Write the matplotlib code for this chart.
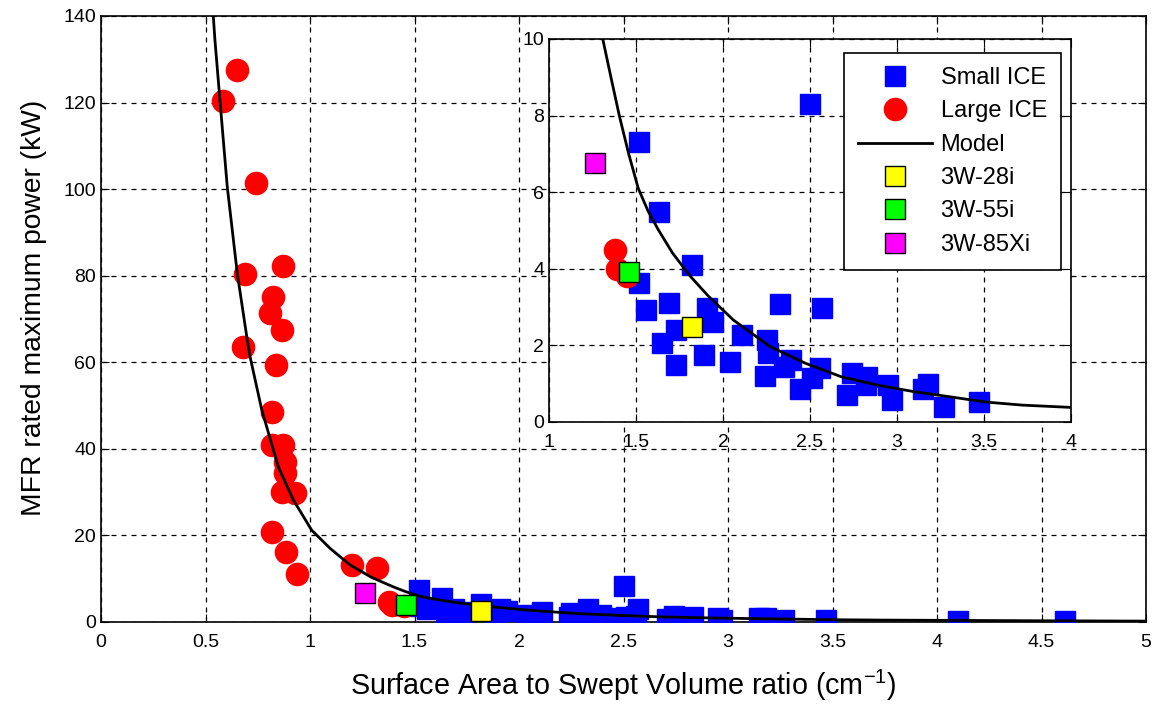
import numpy as np
import matplotlib
matplotlib.use("Agg")
import matplotlib.pyplot as plt

plt.rcParams["font.family"] = ["Liberation Sans", "DejaVu Sans"]
plt.rcParams["mathtext.default"] = "regular"

# Small ICE (blue squares)
small_x = [2.50, 1.52, 1.63, 1.82, 1.52, 1.56, 1.69, 1.65, 1.73, 1.73, 1.91, 1.94,
           1.89, 2.04, 2.11, 2.25, 2.24, 2.26, 2.33, 2.39, 2.35, 2.44, 2.51, 2.57,
           2.56, 2.71, 2.74, 2.83, 2.82, 2.95, 2.97, 3.15, 3.18, 3.27, 3.47, 4.10, 4.61]
small_y = [8.30, 7.30, 5.48, 4.10, 3.62, 2.93, 3.10, 2.05, 1.48, 2.40, 2.97, 2.62,
           1.75, 1.57, 2.27, 2.14, 1.20, 1.79, 3.08, 1.62, 1.44, 0.87, 1.14, 2.97,
           1.40, 0.70, 1.27, 1.18, 0.96, 0.96, 0.57, 0.87, 1.00, 0.39, 0.52, 0.30, 0.30]

# Large ICE (red circles)
large_x = [0.65, 0.585, 0.74, 0.69, 0.87, 0.825, 0.81, 0.865, 0.68, 0.835, 0.82, 0.82,
           0.87, 0.88, 0.88, 0.865, 0.93, 0.82, 0.885, 0.94, 1.20, 1.32, 1.38, 1.39, 1.45]
large_y = [127.5, 120.3, 101.5, 80.3, 82.3, 75.1, 71.3, 67.5, 63.6, 59.4, 48.6, 40.9,
           40.9, 37.0, 34.3, 30.1, 29.7, 20.9, 16.2, 11.1, 13.2, 12.4, 4.5, 4.0, 3.8]

# Model curve
model_x = [0.53, 0.545, 0.569, 0.604, 0.652, 0.697, 0.713, 0.769, 0.848, 0.92, 1.008,
           1.096, 1.191, 1.287, 1.309, 1.356, 1.404, 1.458, 1.513, 1.57, 1.628, 1.71,
           1.813, 1.917, 2.06, 2.27, 2.475, 2.68, 2.89, 3.10, 3.30, 3.51, 3.72, 4.0,
           4.5, 5.0]
model_y = [145.0, 134.4, 120.5, 100.5, 80.5, 66.0, 61.3, 49.0, 35.9, 28.2, 21.2,
           17.0, 13.2, 10.5, 10.0, 9.0, 8.0, 7.0, 6.1, 5.5, 5.02, 4.41,
           3.80, 3.28, 2.66, 1.97, 1.53, 1.18, 0.96, 0.79, 0.66, 0.52, 0.44, 0.38,
           0.28, 0.20]

# Named engines
special_names = ["3W-28i", "3W-55i", "3W-85Xi"]
special_x = [1.82, 1.457, 1.265]
special_y = [2.49, 3.91, 6.75]
special_colors = ["yellow", "lime", "magenta"]

main_xticks = np.arange(0, 5.01, 0.5)
main_yticks = np.arange(0, 141, 20)
inset_xticks = np.arange(1, 4.01, 0.5)
inset_yticks = np.arange(0, 10.1, 2)

fig = plt.figure(figsize=(11.56, 7.08), dpi=100)
ax = fig.add_axes((0.0874, 0.1215, 0.904, 0.856))
axi = fig.add_axes((0.4749, 0.404, 0.4516, 0.541))


def draw(a):
    a.plot(small_x, small_y, "s", color="blue", ms=14, mec="blue", label="Small ICE", zorder=3)
    a.plot(large_x, large_y, "o", color="red", ms=16, mec="red", label="Large ICE", zorder=3)
    a.plot(model_x, model_y, "-", color="black", lw=2, label="Model", zorder=4)
    for n, x, y, c in zip(special_names, special_x, special_y, special_colors):
        a.plot([x], [y], "s", color=c, ms=14, mec="black", mew=1, label=n, zorder=5)
    a.grid(True, linestyle=(0, (4, 4)), color="black", linewidth=0.9)
    a.set_axisbelow(True)
    a.tick_params(direction="in", length=6, top=True, right=True,
                  labelsize=14, colors="black")
    a.tick_params(axis="x", pad=8.5)
    for s in a.spines.values():
        s.set_linewidth(1.2)


draw(ax)
ax.set_xlim(0, 5)
ax.set_ylim(0, 140)
ax.set_xticks(main_xticks)
ax.set_xticklabels(["0", "0.5", "1", "1.5", "2", "2.5", "3", "3.5", "4", "4.5", "5"])
ax.set_yticks(main_yticks)
ax.set_xlabel("Surface Area to Swept Volume ratio (cm$^{-1}$)", fontsize=20.7, labelpad=12)
ax.set_ylabel("MFR rated maximum power (kW)", fontsize=20.3)
ax.yaxis.set_label_coords(-0.052, 0.518)

draw(axi)
axi.set_facecolor("white")
axi.set_xlim(1, 4)
axi.set_ylim(0, 10)
axi.set_xticks(inset_xticks)
axi.set_xticklabels(["1", "1.5", "2", "2.5", "3", "3.5", "4"])
axi.set_yticks(inset_yticks)

leg = axi.legend(loc="upper right", bbox_to_anchor=(0.981, 0.9634), borderaxespad=0,
                 fontsize=17, fancybox=False, framealpha=1, edgecolor="black",
                 handlelength=3.1, handletextpad=0.38, borderpad=0.6, labelspacing=0.48)
leg.get_frame().set_linewidth(1.2)

fig.savefig("out.png", dpi=100)
